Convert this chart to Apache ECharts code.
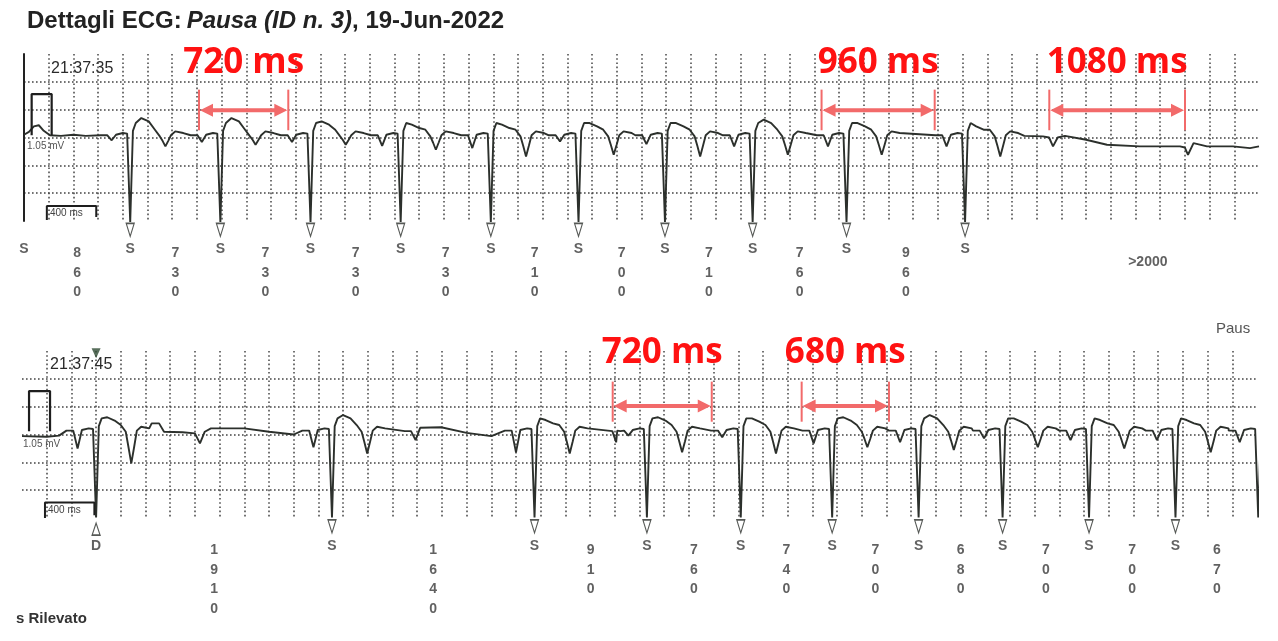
<!DOCTYPE html>
<html>
<head>
<meta charset="utf-8">
<script src="https://cdn.jsdelivr.net/npm/echarts@6/dist/echarts.min.js"></script>
<style>
  html, body { margin: 0; padding: 0; background: #fff; }
  #grafico { width: 1278px; height: 641px; }
</style>
</head>
<body>
<div id="grafico"></div>
<script>

// striscia superiore
const primoBattitoSopra = 0;
const rrSopra = [860, 730, 730, 730, 730, 710, 700, 710, 760, 960];
const picchiSopra = [0.35, 0.35, 0.29, 0.23, 0.23, 0.26, 0.26, 0.32, 0.26, 0.2];
const tDipSopra = [-0.16, -0.13, -0.13, -0.22, -0.34, -0.31, -0.34, -0.31, -0.31, -0.34];
const pDipSopra = [-0.05, -0.08, -0.08, -0.15, -0.19, -0.07, -0.12, -0.16, -0.16, -0.16];
const extraSopra = [[0, 0.05], [40, 0.1], [80, 0.2], [120, 0.22], [160, 0.12], [210, 0.04], [300, 0.03], [400, 0.05], [500, 0.03],
  [8100, 0.03], [8250, 0.02], [8300, 0.0], [8332, -0.16], [8370, 0.0], [8429, 0.03], [8600, -0.04], [8769, -0.13],
  [9036, -0.16], [9360, -0.16], [9400, -0.18], [9425, -0.31], [9470, -0.1], [9579, -0.16], [9789, -0.16], [9927, -0.19], [10000, -0.16]];
const oltre2000 = 9100;

// striscia inferiore
const primoBattitoSotto = 600;
const rrSotto = [1910, 1640, 910, 760, 740, 700, 680, 700, 700, 670];
const picchiSotto = [0.31, 0.35, 0.26, 0.31, 0.29, 0.31, 0.35, 0.29, 0.26, 0.26, 0.3];
const tDipSotto = [-0.52, -0.34, -0.34, -0.32, -0.34, -0.23, -0.28, -0.23, -0.25, -0.32, -0.3];
const pDipSotto = [-0.25, -0.23, -0.32, -0.02, -0.05, -0.16, -0.14, -0.07, -0.1, -0.1, -0.14];
const extraSotto = [[0, -0.03], [200, -0.04], [300, -0.02],
  [1050, 0.2], [1110, 0.2], [1150, 0.05], [1300, 0.04], [1400, 0.02], [1441, -0.16], [1480, 0.05], [1530, 0.11], [1800, 0.11], [2000, 0.05], [2200, 0.0],
  [3100, 0.06], [3150, 0.06], [3187, -0.1], [3224, 0.12], [3394, 0.13], [3600, 0.03], [3800, -0.03],
  [4780, 0.06], [4811, -0.14], [4845, 0.06]];

// forma del battito (offset dal punto S); i punti "T-" e "T+" stanno a meta' tra base e onda T
const modelloDt = [-240, -185, -150, -115, -60, -25, 0, 22, 45, 90, 150, 200, 240, 262, 285, 308, 330, 365, 430];
const modelloV = [0, 0, -0.15, 0.01, 0.04, 0.03, -1.56, 0.08, 0.22, 0.3, 0.24, 0.1, -0.02, -0.15, -0.3, -0.15, 0.0, 0.07, 0.04];
const IDX_P = 2, IDX_R = 9, IDX_T = 14;

// segnale di calibrazione e barra 400 ms
const calSopra = [[62, 0.04], [62, 0.78], [224, 0.78], [224, 0.04]];
const calSotto = [[57, 0.06], [57, 0.78], [227, 0.78], [227, 0.06]];
const barraSopra = [[185, -1.48], [185, -1.23], [585, -1.23], [585, -1.43]];
const barraSotto = [[186, -1.5], [186, -1.22], [586, -1.22], [586, -1.45]];

// misure in rosso
const misureSopraInizio = [1417, 6458, 8302];
const misureSopraFine = [2140, 7374, 9401];
const misureSopraTesto = ['720 ms', '960 ms', '1080 ms'];
const misureSottoInizio = [4783, 6313];
const misureSottoFine = [5585, 7020];
const misureSottoTesto = ['720 ms', '680 ms'];

const FONT = '"Liberation Sans", Arial, sans-serif';
const NERO = '#2c302c';
const ROSSO_TESTO = '#ff1212';
const ROSSO_FRECCIA = '#f26a6a';

const cumula = (primo, rr) => {
  const out = [primo];
  rr.forEach(d => out.push(out[out.length - 1] + d));
  return out;
};

const battitiSopra = cumula(primoBattitoSopra, rrSopra);
const battitiSotto = cumula(primoBattitoSotto, rrSotto);

const costruisciTraccia = (battiti, picchi, tDip, pDip, base, extra) => {
  const punti = [];
  battiti.forEach((t0, k) => {
    for (let i = 0; i < modelloDt.length; i++) {
      let v = base + modelloV[i];
      if (i === IDX_P) v = pDip[k];
      if (i === IDX_R) v = picchi[k];
      if (i === IDX_R + 1) v = picchi[k] - 0.06;
      if (i === IDX_T) v = tDip[k];
      if (i === IDX_T - 1 || i === IDX_T + 1) v = (base + tDip[k]) / 2;
      punti.push([t0 + modelloDt[i], v]);
    }
  });
  extra.forEach(p => punti.push(p));
  punti.sort((a, b) => a[0] - b[0]);
  return punti;
};

const tracciaSopra = costruisciTraccia(battitiSopra.slice(1), picchiSopra, tDipSopra, pDipSopra, 0.04, extraSopra);
const tracciaSotto = costruisciTraccia(battitiSotto, picchiSotto, tDipSotto, pDipSotto, 0.07, extraSotto);

// etichette
const etichetteRR = (battiti, rr) => rr.map((d, i) => ({ name: String(d), value: [battiti[i] + d / 2, -1.9] }));
const dentroStriscia = t => t <= 10000;

const puntiniX = { show: true, showMinLine: false, showMaxLine: false, lineStyle: { color: '#444', width: 1.5, type: [1.6, 2.6] } };
const puntiniY = { show: true, showMinLine: false, showMaxLine: false, lineStyle: { color: '#444', width: 1.5, type: [1.6, 2.4] } };

const assiX = [0, 1].map(i => ({
  type: 'value', gridIndex: i, min: 0, max: 10000, interval: 200,
  axisLine: { show: false }, axisTick: { show: false }, axisLabel: { show: false },
  splitLine: puntiniX
}));
const assiY = [0, 1].map(i => ({
  type: 'value', gridIndex: i, min: -1.5, max: 1.5, interval: 0.5,
  axisLine: { show: i === 0, lineStyle: { color: '#222', width: 2 } },
  axisTick: { show: false }, axisLabel: { show: false },
  splitLine: puntiniY
}));

const disegnaMisura = (testi, vTesto, vFreccia, vTick0, vTick1) => (params, api) => {
  const t0 = api.value(0), t1 = api.value(1);
  const a = api.coord([t0, vFreccia]);
  const b = api.coord([t1, vFreccia]);
  const ta = api.coord([t0, vTick1]), tb = api.coord([t0, vTick0]);
  const tc = api.coord([t1, vTick1]), td = api.coord([t1, vTick0]);
  const c = api.coord([(t0 + t1) / 2, vTesto]);
  return {
    type: 'group',
    children: [
      { type: 'line', shape: { x1: ta[0], y1: ta[1], x2: tb[0], y2: tb[1] }, style: { stroke: ROSSO_FRECCIA, lineWidth: 2 } },
      { type: 'line', shape: { x1: tc[0], y1: tc[1], x2: td[0], y2: td[1] }, style: { stroke: ROSSO_FRECCIA, lineWidth: 2 } },
      { type: 'line', shape: { x1: a[0] + 8, y1: a[1], x2: b[0] - 8, y2: b[1] }, style: { stroke: ROSSO_FRECCIA, lineWidth: 4 } },
      { type: 'polygon', shape: { points: [[a[0] + 1, a[1]], [a[0] + 14, a[1] - 6.5], [a[0] + 14, a[1] + 6.5]] }, style: { fill: ROSSO_FRECCIA } },
      { type: 'polygon', shape: { points: [[b[0] - 1, b[1]], [b[0] - 14, b[1] - 6.5], [b[0] - 14, b[1] + 6.5]] }, style: { fill: ROSSO_FRECCIA } },
      { type: 'text', x: c[0], y: c[1], style: { text: testi[params.dataIndex], font: 'bold 35px "Open Sans"', fill: ROSSO_TESTO, align: 'center', verticalAlign: 'middle' } }
    ]
  };
};

const serieTesto = (idx, dati, font, posizione) => ({
  type: 'scatter', xAxisIndex: idx, yAxisIndex: idx, clip: false, symbolSize: 1,
  itemStyle: { color: 'transparent' }, z: 6,
  label: {
    show: true, position: posizione, distance: 0, color: '#3a3a3a',
    fontFamily: FONT, fontWeight: 'bold', fontSize: font, lineHeight: 19.5,
    formatter: p => posizione === 'bottom' ? p.name.split('').join('\n') : p.name
  },
  data: dati
});

const sopraS = battitiSopra.map(t => ({ name: 'S', value: [t, -2.0] }));
const sottoS = battitiSotto.filter(dentroStriscia).map((t, i) => ({ name: i === 0 ? 'D' : 'S', value: [t, -2.0] }));

const option = {
  animation: false,
  backgroundColor: '#fff',
  title: {
    left: 22, top: 4,
    text: '{b|Dettagli ECG:} {i|Pausa (ID n. 3)}{n|, 19-Jun-2022}',
    textStyle: {
      rich: {
        b: { fontFamily: FONT, fontSize: 24, fontWeight: 'bold', color: '#222' },
        i: { fontFamily: FONT, fontSize: 24, fontStyle: 'italic', color: '#222' },
        n: { fontFamily: FONT, fontSize: 24, color: '#222' }
      }
    }
  },
  grid: [
    { left: 24, top: 54, width: 1235, height: 167 },
    { left: 22, top: 351, width: 1235, height: 167 }
  ],
  xAxis: assiX,
  yAxis: assiY,
  graphic: [
    { type: 'text', left: 51, top: 61, style: { text: '21:37:35', font: '16px ' + FONT, fill: '#2a2a2a' } },
    { type: 'text', left: 50, top: 357, style: { text: '21:37:45', font: '16px ' + FONT, fill: '#2a2a2a' } },
    { type: 'text', left: 27, top: 141, style: { text: '1.05 mV', font: '10px ' + FONT, fill: '#555' } },
    { type: 'text', left: 23, top: 439, style: { text: '1.05 mV', font: '10px ' + FONT, fill: '#555' } },
    { type: 'text', left: 50, top: 208, style: { text: '400 ms', font: '10px ' + FONT, fill: '#444' } },
    { type: 'text', left: 48, top: 505, style: { text: '400 ms', font: '10px ' + FONT, fill: '#444' } },
    { type: 'text', left: 1216, top: 321, style: { text: 'Paus', font: '15px ' + FONT, fill: '#555' } },
    { type: 'text', left: 16, top: 611, style: { text: 's Rilevato', font: 'bold 15px ' + FONT, fill: '#333' } }
  ],
  series: [
    { type: 'line', xAxisIndex: 0, yAxisIndex: 0, data: tracciaSopra, showSymbol: false, z: 4,
      lineStyle: { color: NERO, width: 1.9 } },
    { type: 'line', xAxisIndex: 1, yAxisIndex: 1, data: tracciaSotto, showSymbol: false, z: 4,
      lineStyle: { color: NERO, width: 1.9 } },
    { type: 'line', xAxisIndex: 0, yAxisIndex: 0, data: calSopra, showSymbol: false, z: 5,
      lineStyle: { color: '#1e1e1e', width: 2.2 } },
    { type: 'line', xAxisIndex: 1, yAxisIndex: 1, data: calSotto, showSymbol: false, z: 5,
      lineStyle: { color: '#1e1e1e', width: 2.2 } },
    { type: 'line', xAxisIndex: 0, yAxisIndex: 0, data: barraSopra, showSymbol: false, clip: false, z: 5,
      lineStyle: { color: '#1e1e1e', width: 2 } },
    { type: 'line', xAxisIndex: 1, yAxisIndex: 1, data: barraSotto, showSymbol: false, clip: false, z: 5,
      lineStyle: { color: '#1e1e1e', width: 2 } },
    // frecce sotto i complessi
    { type: 'scatter', xAxisIndex: 0, yAxisIndex: 0, clip: false, symbol: 'triangle', symbolRotate: 180,
      symbolSize: [8, 13], itemStyle: { color: '#fff', borderColor: NERO, borderWidth: 1.3 }, z: 5,
      data: battitiSopra.slice(1).map(t => [t, -1.66]) },
    { type: 'scatter', xAxisIndex: 1, yAxisIndex: 1, clip: false, symbol: 'triangle', symbolRotate: 180,
      symbolSize: [8, 13], itemStyle: { color: '#fff', borderColor: NERO, borderWidth: 1.3 }, z: 5,
      data: battitiSotto.slice(1).filter(dentroStriscia).map(t => [t, -1.65]) },
    { type: 'scatter', xAxisIndex: 1, yAxisIndex: 1, clip: false, symbol: 'triangle',
      symbolSize: [8, 12], itemStyle: { color: '#fff', borderColor: NERO, borderWidth: 1.3 }, z: 5,
      data: [[battitiSotto[0], -1.7]] },
    { type: 'scatter', xAxisIndex: 1, yAxisIndex: 1, clip: false, symbol: 'triangle', symbolRotate: 180,
      symbolSize: [9, 10], itemStyle: { color: '#2e4a32' }, z: 6,
      data: [[battitiSotto[0], 1.46]] },
    serieTesto(0, sopraS, 14, 'inside'),
    serieTesto(1, sottoS, 14, 'inside'),
    serieTesto(0, etichetteRR(battitiSopra, rrSopra), 14, 'bottom'),
    serieTesto(1, etichetteRR(battitiSotto, rrSotto), 14, 'bottom'),
    serieTesto(0, [{ name: '>2000', value: [oltre2000, -2.24] }], 14, 'inside'),
    { type: 'custom', xAxisIndex: 0, yAxisIndex: 0, z: 10, clip: false,
      renderItem: disegnaMisura(misureSopraTesto, 1.33, 0.49, 0.13, 0.86),
      data: misureSopraInizio.map((t, i) => [t, misureSopraFine[i]]) },
    { type: 'custom', xAxisIndex: 1, yAxisIndex: 1, z: 10, clip: false,
      renderItem: disegnaMisura(misureSottoTesto, 1.47, 0.51, 0.23, 0.95),
      data: misureSottoInizio.map((t, i) => [t, misureSottoFine[i]]) }
  ]
};

window.addEventListener('load', () => {
  const grafico = echarts.init(document.getElementById('grafico'));
  grafico.setOption(option);
});
</script>
</body>
</html>
